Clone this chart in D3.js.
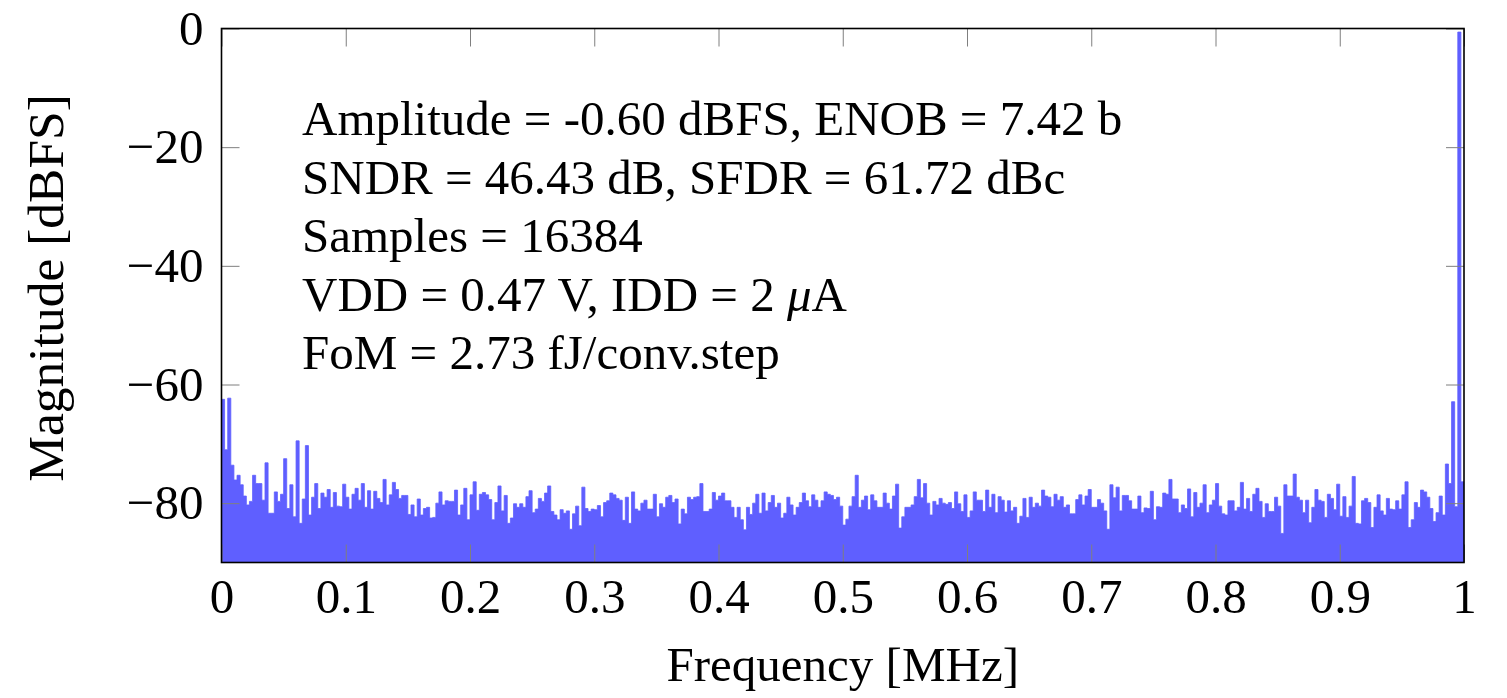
<!DOCTYPE html>
<html>
<head>
<meta charset="utf-8">
<script src="https://cdn.jsdelivr.net/npm/d3@7"></script>
<style>
  html, body { margin: 0; padding: 0; background: #fff; }
  svg { display: block; }
  text { font-family: "Liberation Serif", "Times New Roman", serif; fill: #000; }
</style>
</head>
<body>
<svg id="chart" width="1507" height="698"></svg>
<script>
// ---- data ----
const binStepMHz = 0.0025;          // spacing of the plotted spectrum bins
const magnitude = [
  -62.5,-71.0,-62.3,-73.6,-76.1,-75.3,-76.9,-78.8,-80.3,-79.7,
  -75.3,-76.7,-76.7,-79.5,-73.2,-81.7,-81.7,-78.1,-79.7,-78.5,
  -72.5,-80.9,-76.9,-82.3,-69.5,-83.4,-79.3,-70.3,-82.0,-79.0,
  -76.7,-80.9,-78.3,-79.0,-77.7,-80.7,-78.2,-80.5,-80.6,-76.8,
  -79.0,-81.0,-78.5,-77.5,-79.5,-76.7,-80.7,-77.9,-81.0,-78.0,
  -79.2,-79.9,-76.0,-80.3,-78.6,-76.5,-77.7,-79.2,-78.7,-78.7,
  -81.9,-80.3,-82.3,-79.3,-82.0,-80.9,-80.7,-82.5,-82.4,-80.0,
  -78.1,-80.3,-79.6,-79.7,-79.7,-77.8,-82.0,-80.3,-77.5,-82.8,
  -78.6,-76.4,-81.2,-78.5,-78.2,-78.6,-79.4,-82.8,-79.9,-77.1,
  -81.3,-78.7,-83.4,-82.5,-80.1,-80.7,-80.1,-80.7,-78.9,-77.9,
  -81.6,-81.0,-79.2,-79.7,-78.3,-77.1,-81.4,-82.0,-82.8,-81.1,
  -81.7,-81.3,-84.4,-81.8,-80.5,-83.8,-77.3,-80.9,-81.4,-81.0,
  -81.1,-80.4,-82.3,-79.9,-79.6,-78.3,-78.6,-79.2,-79.5,-82.9,
  -79.0,-83.4,-78.1,-81.0,-81.3,-80.0,-79.5,-81.0,-81.0,-78.5,
  -82.3,-80.1,-80.7,-79.0,-78.7,-79.9,-79.3,-83.5,-81.0,-81.8,
  -79.0,-79.4,-79.0,-78.9,-76.7,-81.4,-81.4,-81.0,-78.2,-79.5,
  -78.8,-78.3,-79.6,-79.6,-80.7,-82.4,-80.7,-82.8,-84.5,-80.7,
  -81.9,-80.0,-78.5,-81.7,-78.3,-81.3,-79.9,-78.7,-80.7,-80.0,
  -82.5,-81.7,-79.0,-80.3,-82.0,-80.7,-79.9,-78.3,-79.6,-80.6,
  -78.6,-79.5,-80.7,-79.6,-78.1,-78.5,-78.7,-79.4,-79.0,-80.5,
  -83.7,-82.7,-80.5,-78.9,-75.3,-80.7,-79.5,-78.8,-81.1,-78.6,
  -79.6,-80.7,-80.7,-78.3,-80.0,-81.0,-78.8,-76.8,-84.2,-82.3,
  -80.7,-80.7,-80.3,-78.9,-76.0,-79.1,-76.7,-80.0,-82.0,-79.7,
  -80.3,-79.2,-80.0,-80.2,-79.9,-80.9,-78.1,-80.1,-81.4,-78.6,
  -82.4,-81.3,-78.1,-79.5,-79.5,-81.4,-77.8,-80.7,-78.5,-81.6,
  -78.9,-79.5,-81.5,-79.6,-81.3,-80.7,-83.4,-82.2,-79.2,-82.4,
  -79.0,-80.7,-80.0,-80.5,-77.8,-78.8,-79.0,-80.6,-78.5,-79.5,
  -78.9,-80.7,-80.3,-81.8,-81.8,-79.4,-78.6,-80.3,-78.8,-77.7,
  -80.7,-80.7,-79.4,-80.0,-81.3,-84.4,-76.9,-79.1,-77.3,-81.3,
  -78.7,-78.7,-79.6,-81.0,-81.0,-78.8,-81.6,-80.8,-80.9,-78.0,
  -82.8,-80.6,-80.7,-78.3,-78.5,-76.0,-79.3,-79.3,-81.6,-80.3,
  -80.9,-77.6,-82.3,-78.2,-80.7,-80.0,-76.9,-81.6,-80.3,-79.5,
  -76.7,-80.5,-81.8,-82.0,-79.6,-79.6,-81.3,-80.7,-76.5,-81.0,
  -79.2,-81.4,-78.5,-77.5,-79.7,-82.4,-80.1,-81.4,-81.4,-79.0,
  -80.5,-85.1,-76.9,-78.8,-78.8,-75.1,-79.0,-79.5,-81.6,-79.5,
  -83.3,-80.7,-77.7,-79.5,-79.7,-82.4,-78.5,-79.2,-81.1,-76.8,
  -82.2,-78.9,-82.4,-80.5,-75.5,-83.4,-83.5,-79.6,-79.2,-79.9,
  -84.1,-80.7,-78.6,-81.3,-82.0,-79.2,-81.0,-81.1,-79.6,-81.0,
  -78.6,-76.4,-84.1,-82.8,-79.9,-80.7,-77.8,-78.1,-79.0,-80.9,
  -83.1,-81.6,-78.8,-82.0,-73.4,-76.7,-62.9,-80.6,-0.6,-76.4,
  -82.3
];
const xTickValues = [0, 0.1, 0.2, 0.3, 0.4, 0.5, 0.6, 0.7, 0.8, 0.9, 1];
const yTickValues = [0, -20, -40, -60, -80];
const annotationLines = [
  "Amplitude = -0.60 dBFS, ENOB = 7.42 b",
  "SNDR = 46.43 dB, SFDR = 61.72 dBc",
  "Samples = 16384",
  "VDD = 0.47 V, IDD = 2 |μ|A",
  "FoM = 2.73 fJ/conv.step"
];
const xLabel = "Frequency [MHz]";
const yLabel = "Magnitude [dBFS]";

// ---- layout ----
const svg = d3.select("#chart");
const pLeft = 221.5, pRight = 1464, pTop = 28.5, pBottom = 562.5;
const x = d3.scaleLinear().domain([0, 1]).range([pLeft, pRight]);
const y = d3.scaleLinear().domain([-90, 0]).range([pBottom, pTop]);
const blue = "#5f5fff";

const points = magnitude.map((m, i) => ({ f: i * binStepMHz, m }));

svg.append("clipPath").attr("id", "plotclip")
  .append("rect").attr("x", pLeft).attr("y", pTop)
  .attr("width", pRight - pLeft).attr("height", pBottom - pTop);

const area = d3.area()
  .x(d => x(d.f))
  .y0(y(-90))
  .y1(d => y(Math.max(-90, d.m)))
  .curve(d3.curveStepAfter);

svg.append("path")
  .datum(points)
  .attr("clip-path", "url(#plotclip)")
  .attr("fill", blue)
  .attr("stroke", blue)
  .attr("stroke-width", 0.8)
  .attr("d", area);

// ticks (inward, mirrored)
const tickLen = 18;
const tickStyle = g => {
  g.select(".domain").remove();
  g.selectAll(".tick line").attr("stroke", "#7f7f7f").attr("stroke-width", 1);
  g.selectAll(".tick text")
    .style("font-family", '"Liberation Serif", "Times New Roman", serif')
    .style("font-size", "49px").attr("fill", "#000");
};

svg.append("g").attr("transform", `translate(0,${pBottom})`)
  .call(d3.axisBottom(x).tickValues(xTickValues).tickSize(-tickLen).tickPadding(16)
    .tickFormat(d => d3.format("~g")(d)))
  .call(tickStyle);
svg.append("g").attr("transform", `translate(0,${pTop})`)
  .call(d3.axisTop(x).tickValues(xTickValues).tickSize(-tickLen).tickFormat(""))
  .call(tickStyle);
svg.append("g").attr("transform", `translate(${pLeft},0)`)
  .call(d3.axisLeft(y).tickValues(yTickValues).tickSize(-tickLen).tickPadding(18)
    .tickFormat(d => d === 0 ? "0" : "\u2212" + Math.abs(d)))
  .call(tickStyle);
svg.append("g").attr("transform", `translate(${pRight},0)`)
  .call(d3.axisRight(y).tickValues(yTickValues).tickSize(-tickLen).tickFormat(""))
  .call(tickStyle);

// frame
svg.append("rect").attr("x", pLeft).attr("y", pTop)
  .attr("width", pRight - pLeft).attr("height", pBottom - pTop)
  .attr("fill", "none").attr("stroke", "#000").attr("stroke-width", 1.6);

// annotations
const ann = svg.append("g");
annotationLines.forEach((line, i) => {
  const t = ann.append("text")
    .attr("x", 302).attr("y", 135 + i * 58.5)
    .style("font-size", "49px");
  line.split("|").forEach(part => {
    t.append("tspan").text(part).style("font-style", part === "μ" ? "italic" : null);
  });
});

// axis labels
svg.append("text")
  .attr("x", (pLeft + pRight) / 2).attr("y", 681)
  .attr("text-anchor", "middle").style("font-size", "49px")
  .text(xLabel);
svg.append("text")
  .attr("transform", `translate(63,288) rotate(-90)`)
  .attr("text-anchor", "middle").style("font-size", "51.5px")
  .text(yLabel);
</script>
</body>
</html>
